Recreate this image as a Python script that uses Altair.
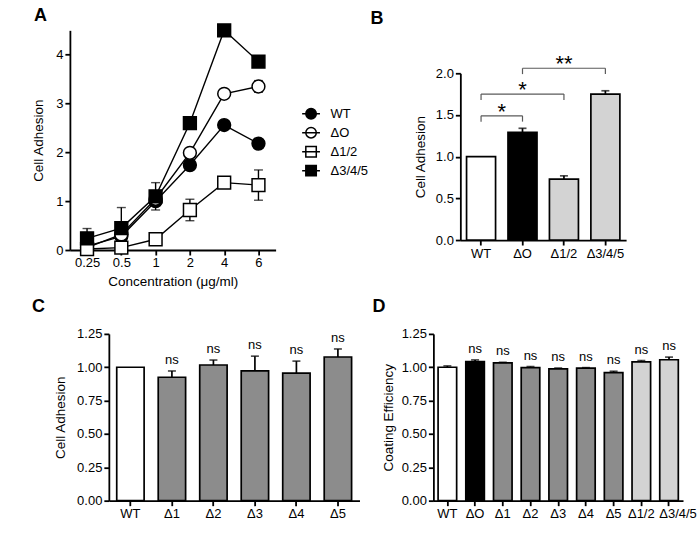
import altair as alt
import pandas as pd

FONT = "Liberation Sans"
BLACK = "black"

# ---------------- Panel A data ----------------
conc_labels = ["0.25", "0.5", "1", "2", "4", "6"]
series_names = ["WT", "ΔO", "Δ1/2", "Δ3/4/5"]
a_wt_mean = [0.08, 0.28, 1.00, 1.74, 2.56, 2.18]
a_wt_err = [0.03, 0.05, 0.05, 0.05, 0.05, 0.05]
a_do_mean = [0.05, 0.32, 1.05, 1.99, 3.20, 3.35]
a_do_err = [0.03, 0.05, 0.08, 0.05, 0.05, 0.12]
a_d12_mean = [0.02, 0.05, 0.22, 0.82, 1.38, 1.33]
a_d12_err = [0.02, 0.05, 0.03, 0.22, 0.05, 0.31]
a_d345_mean = [0.24, 0.45, 1.10, 2.60, 4.50, 3.86]
a_d345_err = [0.20, 0.42, 0.28, 0.05, 0.05, 0.05]

# ---------------- Panel B data ----------------
b_cats = ["WT", "ΔO", "Δ1/2", "Δ3/4/5"]
b_mean = [1.00, 1.29, 0.73, 1.75]
b_err = [0.00, 0.05, 0.04, 0.04]
b_br_left = ["WT", "WT", "ΔO"]
b_br_right = ["ΔO", "Δ1/2", "Δ3/4/5"]
b_br_y = [1.49, 1.75, 2.06]
b_br_text = ["*", "*", "**"]

# ---------------- Panel C data ----------------
c_cats = ["WT", "Δ1", "Δ2", "Δ3", "Δ4", "Δ5"]
c_mean = [1.00, 0.925, 1.017, 0.973, 0.956, 1.077]
c_err = [0.00, 0.047, 0.037, 0.11, 0.09, 0.06]
c_sig = ["", "ns", "ns", "ns", "ns", "ns"]

# ---------------- Panel D data ----------------
d_cats = ["WT", "ΔO", "Δ1", "Δ2", "Δ3", "Δ4", "Δ5", "Δ1/2", "Δ3/4/5"]
d_mean = [1.00, 1.043, 1.033, 0.997, 0.988, 0.993, 0.960, 1.040, 1.056]
d_err = [0.010, 0.012, 0.004, 0.008, 0.006, 0.004, 0.010, 0.010, 0.020]
d_sig = ["", "ns", "ns", "ns", "ns", "ns", "ns", "ns", "ns"]

# ---------------- styles ----------------
FILL_OF = {"WT": "white", "ΔO": "black", "Δ1/2": "#d3d3d3", "Δ3/4/5": "#d3d3d3",
           "Δ1": "#8c8c8c", "Δ2": "#8c8c8c", "Δ3": "#8c8c8c", "Δ4": "#8c8c8c", "Δ5": "#8c8c8c"}
A_SHAPES = ["circle", "circle", "square", "square"]
A_FILLS = ["black", "white", "white", "black"]
CIRCLE_LINE = "M-1,0A1,1 0 1,0 1,0A1,1 0 1,0 -1,0Z M-1.7,0H1.7"
SQUARE_LINE = "M-1,-1H1V1H-1Z M-1.7,0H1.7"
LEG_SHAPES = [CIRCLE_LINE if s == "circle" else SQUARE_LINE for s in A_SHAPES]
LEG_FILLS = [f if f == "black" else "transparent" for f in A_FILLS]

# layout (pixels)
A_SHIFT = 39          # A's axes sit this far left of the row origin shared with C
A_W, A_H = 167, 220
B_W, B_H, B_TOP = 166, 210, 43
C_W, D_W, CD_H = 251, 250, 167


def title(letter, dx, offset):
    return alt.TitleParams(text=letter, anchor="start", frame="group", dx=dx, offset=offset,
                           fontSize=18, fontWeight="bold", font=FONT, color=BLACK)


# ================= Panel A =================
rows = []
means = [a_wt_mean, a_do_mean, a_d12_mean, a_d345_mean]
errs = [a_wt_err, a_do_err, a_d12_err, a_d345_err]
for s, ms, es in zip(series_names, means, errs):
    for c, m, e in zip(conc_labels, ms, es):
        rows.append({"conc": c, "series": s, "mean": m, "lo": max(m - e, 0), "hi": m + e})
df_a = pd.DataFrame(rows)

xA = alt.X("conc:O", scale=alt.Scale(type="point", domain=conc_labels, padding=0.5,
                                     range=[-A_SHIFT, A_W]),
           axis=alt.Axis(title="Concentration (μg/ml)", labelAngle=0, titlePadding=5))
yA_scale = alt.Scale(domain=[0, 4.5], nice=False)
yA_axis = alt.Axis(title="Cell Adhesion", values=[0, 1, 2, 3, 4], titlePadding=10, offset=A_SHIFT)

legA = alt.Legend(title=None, orient="none", legendX=196, legendY=77,
                  symbolSize=110, symbolStrokeWidth=1.5, symbolStrokeColor=BLACK,
                  symbolOpacity=1, labelFontSize=13, labelFont=FONT,
                  labelColor=BLACK, labelOffset=13, rowPadding=2)

baseA = alt.Chart(df_a)
linesA = baseA.mark_line(color=BLACK, strokeWidth=1.4).encode(
    x=xA, y=alt.Y("mean:Q", scale=yA_scale, axis=yA_axis), detail="series:N")
errA = baseA.mark_rule(color=BLACK, strokeWidth=1.4).encode(
    x=xA, y=alt.Y("lo:Q", scale=yA_scale, axis=yA_axis), y2="hi:Q")
capHiA = baseA.mark_tick(color=BLACK, size=9, thickness=1.4).encode(
    x=xA, y=alt.Y("hi:Q", scale=yA_scale, axis=yA_axis))
capLoA = baseA.mark_tick(color=BLACK, size=9, thickness=1.4).encode(
    x=xA, y=alt.Y("lo:Q", scale=yA_scale, axis=yA_axis))
pointsA = baseA.mark_point(stroke=BLACK, strokeWidth=1.5, size=165, opacity=1).encode(
    x=xA,
    y=alt.Y("mean:Q", scale=yA_scale, axis=yA_axis),
    shape=alt.Shape("series:N", scale=alt.Scale(domain=series_names, range=A_SHAPES), legend=None),
    fill=alt.Fill("series:N", scale=alt.Scale(domain=series_names, range=A_FILLS), legend=None),
)
# legend source layer: draws nothing, only carries the legend scales
legendA = baseA.transform_filter("false").mark_point(
    strokeWidth=1.5, size=110, opacity=1).encode(
    x=xA,
    y=alt.Y("mean:Q", scale=yA_scale, axis=yA_axis),
    shape=alt.Shape("series:N", scale=alt.Scale(domain=series_names, range=LEG_SHAPES), legend=legA),
    fill=alt.Fill("series:N", scale=alt.Scale(domain=series_names, range=LEG_FILLS), legend=legA),
    stroke=alt.Stroke("series:N", scale=alt.Scale(domain=series_names, range=[BLACK] * 4),
                      legend=legA),
)
chartA = alt.layer(linesA, errA, capHiA, capLoA, pointsA, legendA).resolve_scale(
    shape="independent", fill="independent", stroke="independent").properties(
    width=A_W, height=A_H, title=title("A", -75, -4))


# ================= bar panels =================
def bar_panel(cats, mean, err, sig, ydomain, yrange, yvalues, yfmt, ytitle, pinner, pouter, tpad,
              xlabel_offset=None):
    df = pd.DataFrame({"cat": cats, "mean": mean, "hi": [m + e for m, e in zip(mean, err)],
                       "err": err, "sig": sig})
    xs = alt.Scale(domain=cats, paddingInner=pinner, paddingOuter=pouter)
    if xlabel_offset is None:
        xax = alt.Axis(title=None, labelAngle=0, labelOverlap=False)
    else:
        xax = alt.Axis(title=None, labelAngle=0, labelOverlap=False, labelOffset=xlabel_offset)
    if yrange is None:
        ys = alt.Scale(domain=ydomain, nice=False)
    else:
        ys = alt.Scale(domain=ydomain, nice=False, range=yrange)
    yax = alt.Axis(title=ytitle, values=yvalues, format=yfmt, titlePadding=tpad, offset=0)
    x = alt.X("cat:N", scale=xs, axis=xax)
    base = alt.Chart(df)
    bars = base.mark_bar(stroke=BLACK, strokeWidth=1.7).encode(
        x=x, y=alt.Y("mean:Q", scale=ys, axis=yax),
        fill=alt.Fill("cat:N", scale=alt.Scale(domain=cats, range=[FILL_OF[c] for c in cats]),
                      legend=None))
    ebase = base.transform_filter("datum.err > 0")
    erule = ebase.mark_rule(color=BLACK, strokeWidth=1.7).encode(
        x=x, y=alt.Y("mean:Q", scale=ys, axis=yax), y2="hi:Q")
    ecap = ebase.mark_tick(color=BLACK, size=8, thickness=1.7).encode(
        x=x, y=alt.Y("hi:Q", scale=ys, axis=yax))
    layers = [bars, erule, ecap]
    if sig is not None:
        txt = base.transform_filter("datum.sig != ''").mark_text(
            font=FONT, fontSize=13, color=BLACK, baseline="alphabetic", dy=-7).encode(
            x=x, y=alt.Y("hi:Q", scale=ys, axis=yax), text="sig:N")
        layers.append(txt)
    return layers, ys, yax


# ---- B ----
STEP_B = B_W / (len(b_cats) - 0.3 + 2 * 0.15)
layersB, ysB, yaxB = bar_panel(b_cats, b_mean, b_err, None, [0, 2], [B_H, B_TOP],
                               [0, 0.5, 1, 1.5, 2], ".1f", "Cell Adhesion", 0.3, 0.15, 8)
df_br = pd.DataFrame({"left": b_br_left, "right": b_br_right, "y": b_br_y, "text": b_br_text})
df_br["ylo"] = df_br["y"] - 0.07
BR_COLOR = "#5a5a5a"
xBs = alt.Scale(domain=b_cats, paddingInner=0.3, paddingOuter=0.15)
xBax = alt.Axis(title=None, labelAngle=0, labelOverlap=False)
brH = alt.Chart(df_br).mark_rule(color=BR_COLOR, strokeWidth=1.2).encode(
    x=alt.X("left:N", scale=xBs, axis=xBax), x2="right:N",
    y=alt.Y("y:Q", scale=ysB, axis=yaxB))
brL = alt.Chart(df_br).mark_rule(color=BR_COLOR, strokeWidth=1.2).encode(
    x=alt.X("left:N", scale=xBs, axis=xBax),
    y=alt.Y("y:Q", scale=ysB, axis=yaxB), y2="ylo:Q")
brR = alt.Chart(df_br).mark_rule(color=BR_COLOR, strokeWidth=1.2).encode(
    x=alt.X("right:N", scale=xBs, axis=xBax),
    y=alt.Y("y:Q", scale=ysB, axis=yaxB), y2="ylo:Q")
star_layers = []
for i in range(len(b_br_text)):
    span = b_cats.index(b_br_right[i]) - b_cats.index(b_br_left[i])
    star_layers.append(
        alt.Chart(df_br.iloc[[i]]).mark_text(font=FONT, fontSize=22, color=BLACK,
                                             baseline="alphabetic", dx=STEP_B * span / 2, dy=3)
        .encode(x=alt.X("left:N", scale=xBs, axis=xBax),
                y=alt.Y("y:Q", scale=ysB, axis=yaxB), text="text:N"))
chartB = alt.layer(*layersB, brH, brL, brR, *star_layers).properties(
    width=B_W, height=B_H, title=title("B", -90, 2))

# ---- C ----
layersC, _, _ = bar_panel(c_cats, c_mean, c_err, c_sig, [0, 1.25], None,
                          [0, 0.25, 0.5, 0.75, 1.0, 1.25], ".2f", "Cell Adhesion",
                          0.34, 0.19, 9)
chartC = alt.layer(*layersC).properties(width=C_W, height=CD_H, title=title("C", -77, 12))

# ---- D ----
d_label_shift = {"condition": {"test": "datum.value === '%s'" % d_cats[-1], "value": 9},
                 "value": 0}
layersD, _, _ = bar_panel(d_cats, d_mean, d_err, d_sig, [0, 1.25], None,
                          [0, 0.25, 0.5, 0.75, 1.0, 1.25], ".2f", "Coating Efficiency",
                          0.33, 0.17, 6, xlabel_offset=d_label_shift)
chartD = alt.layer(*layersD).properties(width=D_W, height=CD_H, title=title("D", -61, 12))

row1 = alt.hconcat(chartA, chartB, spacing=2).resolve_scale(
    fill="independent", shape="independent", stroke="independent")
row2 = alt.hconcat(chartC, chartD, spacing=13).resolve_scale(fill="independent")
chart = alt.vconcat(row1, row2, spacing=9).resolve_scale(
    fill="independent", shape="independent", stroke="independent").properties(
    padding={"left": 31, "top": 6, "right": 0, "bottom": 0}
).configure_view(stroke=None).configure_axis(
    domainColor=BLACK, domainWidth=1.8, tickColor=BLACK, tickWidth=1.8, tickSize=5,
    labelColor=BLACK, labelFont=FONT, labelFontSize=13, labelPadding=2,
    titleFont=FONT, titleFontSize=13.5, titleFontWeight="normal", titleColor=BLACK, grid=False
).configure_text(font=FONT)

chart.save("out.html", embed_options={"renderer": "svg", "actions": False})
